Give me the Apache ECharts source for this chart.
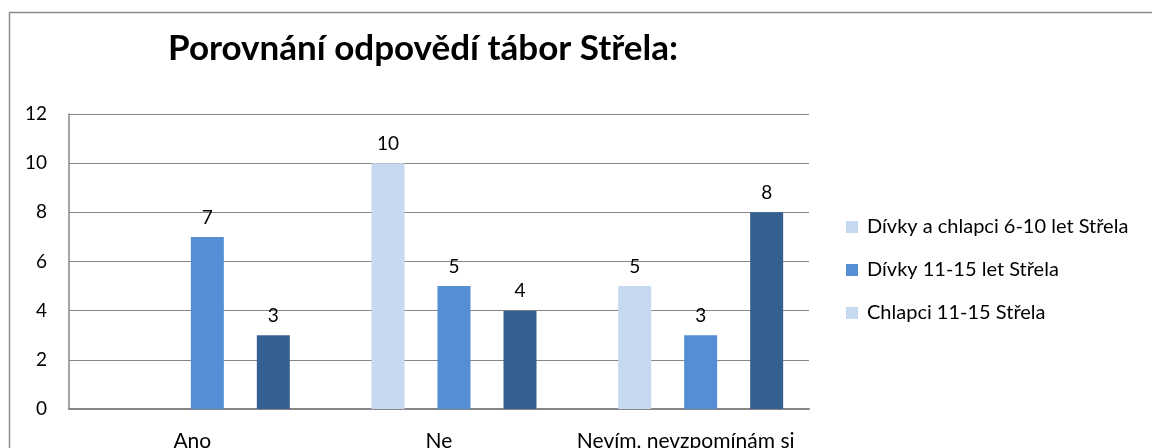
<!DOCTYPE html>
<html>
<head>
<meta charset="utf-8">
<script src="https://cdn.jsdelivr.net/npm/echarts@6/dist/echarts.min.js"></script>
<style>
  html, body { margin: 0; padding: 0; background: #fff; }
  #chart { width: 1152px; height: 448px; }
</style>
</head>
<body>
<div id="chart"></div>
<script>
// chart data
const categories = ['Ano', 'Ne', 'Nevím, nevzpomínám si']
const seriesNames = ['Dívky a chlapci 6-10 let Střela', 'Dívky 11-15 let Střela', 'Chlapci 11-15 Střela']
const kids610 = [null, 10, 5]
const girls1115 = [7, 5, 3]
const boys1115 = [3, 4, 8]
const yTicks = [0, 2, 4, 6, 8, 10, 12]

const colors = ['#c6d9f1', '#558ed5', '#376092']
const legendColors = ['#c6d9f1', '#558ed5', '#c6d9f1'] // legend in source shows light square for last item
const font = 'Lato, "Open Sans", sans-serif'
const grey = '#878787'

const chart = echarts.init(document.getElementById('chart'))

const values = [kids610, girls1115, boys1115]

const option = {
  backgroundColor: '#fff',
  animation: false,
  graphic: [{
    type: 'rect',
    shape: { x: 9.5, y: 12.5, width: 1300, height: 600 },
    style: { fill: 'none', stroke: '#8c8c8c', lineWidth: 1.5 },
  }],
  title: {
    text: 'Porovnání odpovědí tábor Střela:',
    left: 418,
    textAlign: 'center',
    top: 26,
    textStyle: { fontFamily: font, fontWeight: 'bold', fontSize: 35, color: '#000' },
  },
  legend: {
    orient: 'vertical',
    left: 841,
    top: 212,
    itemWidth: 12,
    itemHeight: 12,
    itemGap: 23,
    icon: 'rect',
    textStyle: { fontFamily: font, fontSize: 20, color: '#000', padding: [0, 0, 0, 4] },
    data: seriesNames.map((name, i) => ({ name, itemStyle: { color: legendColors[i] } })),
  },
  grid: [
    // axes, gridlines, labels (x labels run off the bottom edge, as in the source)
    { left: 69, right: 343, top: 114, bottom: 39, outerBoundsMode: 'none', containLabel: false },
    // bars (groups sit a bit right of the category centres in the source)
    { left: 84, right: 328, top: 114, bottom: 39, outerBoundsMode: 'none', containLabel: false },
  ],
  xAxis: [
    {
      gridIndex: 0,
      type: 'category',
      data: categories,
      axisLine: { lineStyle: { color: grey, width: 2 } },
      axisTick: { show: false },
      axisLabel: { interval: 0, fontFamily: font, fontSize: 21, color: '#000', margin: 22 },
    },
    { gridIndex: 1, type: 'category', data: categories, show: false },
  ],
  yAxis: [
    {
      gridIndex: 0,
      type: 'value',
      min: yTicks[0],
      max: yTicks[yTicks.length - 1],
      interval: 2,
      axisLine: { show: true, lineStyle: { color: grey, width: 1.5 } },
      axisTick: { show: false },
      splitLine: { lineStyle: { color: grey, width: 1 } },
      axisLabel: { fontFamily: font, fontSize: 19, color: '#000', margin: 22, padding: [8, 0, 0, 0] },
    },
    {
      gridIndex: 1,
      type: 'value',
      min: yTicks[0],
      max: yTicks[yTicks.length - 1],
      interval: 2,
      show: false,
    },
  ],
  series: seriesNames.map((name, i) => ({
    name,
    type: 'bar',
    xAxisIndex: 1,
    yAxisIndex: 1,
    data: values[i],
    barWidth: 33,
    barGap: '100%',
    itemStyle: { color: colors[i] },
    label: {
      show: true,
      position: 'top',
      distance: 10,
      fontFamily: font,
      fontSize: 19,
      color: '#000',
    },
  })),
}

chart.setOption(option)
</script>
</body>
</html>
